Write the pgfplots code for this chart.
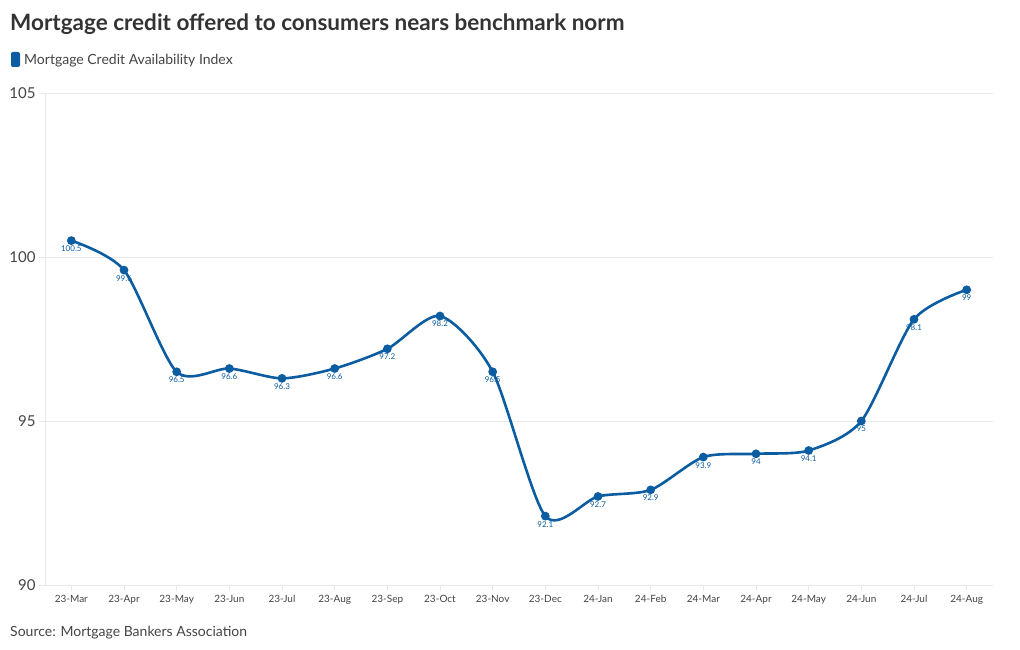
\documentclass[border=0pt]{standalone}
\usepackage{pgfplots}
\pgfplotsset{compat=1.18}
\usepackage{fontspec}
\setmainfont{Lato}
\definecolor{lineblue}{HTML}{0B5CA0}
\definecolor{titlegray}{HTML}{333333}
\definecolor{textgray}{HTML}{444444}
\definecolor{gridgray}{HTML}{E8E8E8}
\begin{document}
\begin{tikzpicture}[x=1pt,y=1pt]
\path[use as bounding box] (0,0) rectangle (1020,650);
\node[anchor=base west, text=titlegray, font=\fontsize{22.5}{26}\selectfont\bfseries, inner sep=0] at (10,619) {Mortgage credit offered to consumers nears benchmark norm};
\fill[lineblue, rounded corners=2pt] (11,583) rectangle (20,598);
\node[anchor=base west, text=textgray, font=\fontsize{14}{16}\selectfont, inner sep=0] at (24,585) {Mortgage Credit Availability Index};
\node[anchor=base west, text=textgray, font=\fontsize{14}{16}\selectfont, inner sep=0] at (10,13) {Source: Mortgage Bankers Association};
\begin{axis}[
  at={(45pt,65pt)}, anchor=south west,
  width=948pt, height=492pt, scale only axis,
  xmin=-0.5, xmax=17.5, ymin=90, ymax=105,
  ytick={90,95,100,105},
  xtick={0,...,17},
  xticklabels={23-Mar,23-Apr,23-May,23-Jun,23-Jul,23-Aug,23-Sep,23-Oct,23-Nov,23-Dec,24-Jan,24-Feb,24-Mar,24-Apr,24-May,24-Jun,24-Jul,24-Aug},
  axis line style={draw=none},
  axis x line*=bottom,
  axis y line*=left,
  ymajorgrids, grid style={gridgray, line width=0.8pt},
  tick align=outside,
  tick style={gridgray, line width=0.8pt},
  major tick length=6pt,
  x tick label style={font=\fontsize{10}{12}\selectfont, text=textgray, yshift=-1pt},
  y tick label style={font=\fontsize{15}{17}\selectfont, text=textgray},
  /pgf/number format/assume math mode=true,
  clip=false,
]
\draw[gridgray, line width=0.8pt] (axis cs:-0.5,90) -- (axis cs:-0.5,105);
\draw[gridgray, line width=0.8pt] (axis cs:-0.5,90) -- (axis cs:17.5,90);
\addplot[lineblue, line width=2.6pt, smooth, tension=0.45, mark=*, mark size=3pt,
  nodes near coords, point meta=explicit symbolic,
  every node near coord/.style={anchor=north, font=\fontsize{8}{9}\selectfont, text=lineblue, yshift=-0.5pt}]
coordinates {
(0,100.5) [100.5]
(1,99.6) [99.6]
(2,96.5) [96.5]
(3,96.6) [96.6]
(4,96.3) [96.3]
(5,96.6) [96.6]
(6,97.2) [97.2]
(7,98.2) [98.2]
(8,96.5) [96.5]
(9,92.1) [92.1]
(10,92.7) [92.7]
(11,92.9) [92.9]
(12,93.9) [93.9]
(13,94) [94]
(14,94.1) [94.1]
(15,95) [95]
(16,98.1) [98.1]
(17,99) [99]
};
\end{axis}
\end{tikzpicture}
\end{document}
